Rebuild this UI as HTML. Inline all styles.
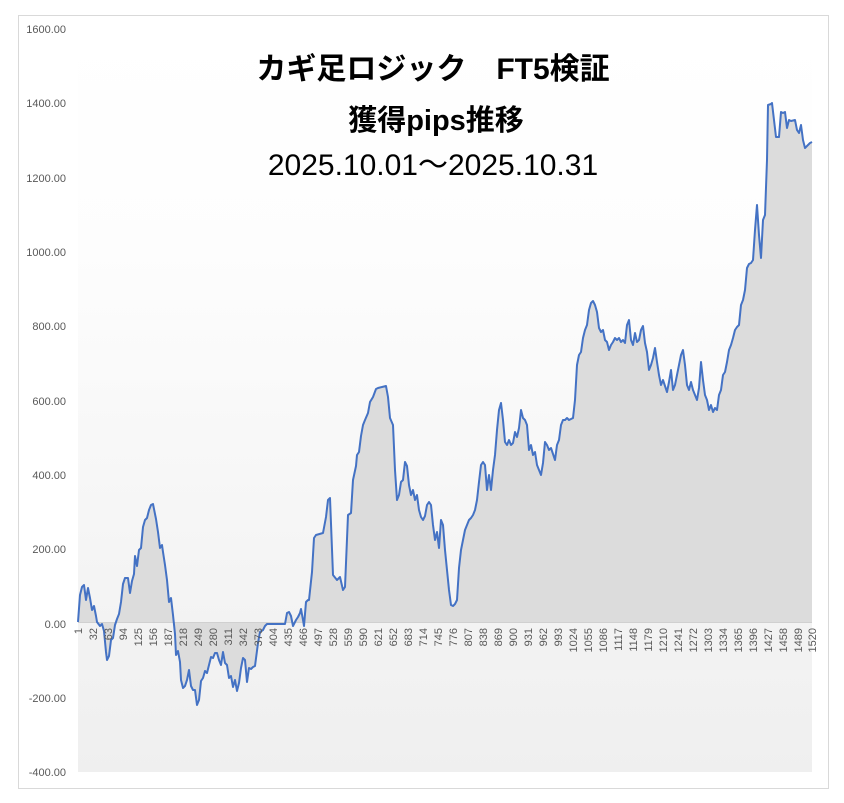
<!DOCTYPE html>
<html><head><meta charset="utf-8"><style>
html,body{margin:0;padding:0;background:#fff}
svg{display:block}
text{font-family:"Liberation Sans","Noto Sans CJK JP",sans-serif}
</style></head><body>
<svg width="844" height="803" viewBox="0 0 844 803" xmlns="http://www.w3.org/2000/svg">
<defs>
<linearGradient id="bg" x1="0" y1="0" x2="0" y2="1">
<stop offset="0" stop-color="#ffffff"/><stop offset="0.3" stop-color="#fdfdfd"/><stop offset="1" stop-color="#efefef"/>
</linearGradient>
</defs>
<rect x="18.5" y="15.5" width="810" height="773" fill="#fff" stroke="#d9d9d9"/>
<rect x="78" y="29" width="734" height="743" fill="url(#bg)"/>
<polygon fill="#dcdcdc" points="78,622 78,622 80,595 82,587 84,585 86,600 88,588 90,598 92,610 94,606 96,616 97,622 100,626 102,624 104,631 106,652 107,660 109,656 111,640 113,638 115,625 117,619 119,614 121,602 123,584 125,578 128,578 130,593 132,581 134,574 135,556 137,566 139,550 141,548 143,527 145,520 147,518 149,510 151,505 153,504 156,519 158,532 160,548 162,545 163,552 165,565 167,580 169,602 171,598 173,615 175,634 176,655 178,651 180,662 181,680 183,688 185,686 187,680 189,670 191,686 193,690 195,690 197,705 199,700 201,681 203,678 205,671 207,673 209,665 211,657 213,658 215,653 217,653 219,660 221,665 223,652 225,663 227,665 229,678 231,676 233,687 235,680 237,691 239,683 241,668 243,658 245,660 247,682 249,668 251,669 253,667 255,666 258,643 260,632 263,630 265,626 267,624 285,624 287,613 289,612 291,616 293,626 296,620 298,617 300,613 301,609 303,620 304,626 306,602 308,600 309,600 312,572 314,538 316,535 323,533 326,517 328,500 330,498 333,575 337,580 340,577 343,590 345,587 348,515 351,513 353,480 356,466 357,455 359,452 361,436 363,425 365,420 368,413 370,402 373,397 376,389 378,388 382,387 386,386 388,397 390,418 393,425 395,470 397,500 399,495 401,482 403,480 405,462 407,466 409,485 411,495 413,490 415,500 417,495 419,510 421,517 423,520 425,516 427,505 429,502 431,505 433,525 435,540 437,532 439,548 441,520 443,525 445,550 447,570 449,590 451,605 453,606 455,604 457,600 459,568 461,550 463,540 465,530 467,525 469,520 471,518 473,515 475,510 477,500 479,482 481,465 483,462 485,465 487,490 489,475 491,490 493,470 495,455 497,430 499,410 501,403 503,420 505,442 507,445 509,440 511,445 513,443 515,432 517,437 519,428 521,410 523,418 525,420 527,425 529,450 531,445 533,455 535,452 537,465 539,470 541,475 543,463 545,442 547,445 549,450 551,448 553,454 555,460 557,445 559,440 561,425 563,420 565,420 567,418 569,420 573,418 575,400 577,365 579,355 581,352 583,338 585,330 587,325 589,310 591,303 593,301 595,305 597,312 599,328 601,332 603,330 605,340 607,342 609,350 611,345 613,342 615,338 617,340 619,338 621,342 623,340 625,343 627,325 629,320 631,340 633,345 635,333 637,342 639,340 641,330 643,326 645,343 647,352 649,370 651,365 653,358 655,348 657,362 659,375 661,385 663,380 665,386 667,392 669,382 671,370 673,390 675,385 677,375 679,365 681,355 683,350 685,365 687,385 689,390 691,382 693,390 695,395 697,400 699,388 701,362 703,380 705,395 707,400 709,410 711,405 713,412 715,408 717,410 719,395 721,390 723,375 725,372 727,362 729,350 731,345 733,338 735,330 737,327 739,325 741,305 743,300 745,290 747,268 749,264 751,263 753,260 755,230 757,205 759,235 761,258 763,220 765,215 767,160 768,105 771,104 772,103 774,120 776,137 779,137 781,112 783,113 785,112 787,128 789,120 791,121 795,120 797,130 799,133 801,125 803,140 805,148 807,146 810,143 812,142 812,622"/>
<line x1="78" y1="622.5" x2="812" y2="622.5" stroke="#d0d0d0" stroke-width="1"/>
<polyline fill="none" stroke="#4472c4" stroke-width="2" stroke-linejoin="round" points="78,622 80,595 82,587 84,585 86,600 88,588 90,598 92,610 94,606 96,616 97,622 100,626 102,624 104,631 106,652 107,660 109,656 111,640 113,638 115,625 117,619 119,614 121,602 123,584 125,578 128,578 130,593 132,581 134,574 135,556 137,566 139,550 141,548 143,527 145,520 147,518 149,510 151,505 153,504 156,519 158,532 160,548 162,545 163,552 165,565 167,580 169,602 171,598 173,615 175,634 176,655 178,651 180,662 181,680 183,688 185,686 187,680 189,670 191,686 193,690 195,690 197,705 199,700 201,681 203,678 205,671 207,673 209,665 211,657 213,658 215,653 217,653 219,660 221,665 223,652 225,663 227,665 229,678 231,676 233,687 235,680 237,691 239,683 241,668 243,658 245,660 247,682 249,668 251,669 253,667 255,666 258,643 260,632 263,630 265,626 267,624 285,624 287,613 289,612 291,616 293,626 296,620 298,617 300,613 301,609 303,620 304,626 306,602 308,600 309,600 312,572 314,538 316,535 323,533 326,517 328,500 330,498 333,575 337,580 340,577 343,590 345,587 348,515 351,513 353,480 356,466 357,455 359,452 361,436 363,425 365,420 368,413 370,402 373,397 376,389 378,388 382,387 386,386 388,397 390,418 393,425 395,470 397,500 399,495 401,482 403,480 405,462 407,466 409,485 411,495 413,490 415,500 417,495 419,510 421,517 423,520 425,516 427,505 429,502 431,505 433,525 435,540 437,532 439,548 441,520 443,525 445,550 447,570 449,590 451,605 453,606 455,604 457,600 459,568 461,550 463,540 465,530 467,525 469,520 471,518 473,515 475,510 477,500 479,482 481,465 483,462 485,465 487,490 489,475 491,490 493,470 495,455 497,430 499,410 501,403 503,420 505,442 507,445 509,440 511,445 513,443 515,432 517,437 519,428 521,410 523,418 525,420 527,425 529,450 531,445 533,455 535,452 537,465 539,470 541,475 543,463 545,442 547,445 549,450 551,448 553,454 555,460 557,445 559,440 561,425 563,420 565,420 567,418 569,420 573,418 575,400 577,365 579,355 581,352 583,338 585,330 587,325 589,310 591,303 593,301 595,305 597,312 599,328 601,332 603,330 605,340 607,342 609,350 611,345 613,342 615,338 617,340 619,338 621,342 623,340 625,343 627,325 629,320 631,340 633,345 635,333 637,342 639,340 641,330 643,326 645,343 647,352 649,370 651,365 653,358 655,348 657,362 659,375 661,385 663,380 665,386 667,392 669,382 671,370 673,390 675,385 677,375 679,365 681,355 683,350 685,365 687,385 689,390 691,382 693,390 695,395 697,400 699,388 701,362 703,380 705,395 707,400 709,410 711,405 713,412 715,408 717,410 719,395 721,390 723,375 725,372 727,362 729,350 731,345 733,338 735,330 737,327 739,325 741,305 743,300 745,290 747,268 749,264 751,263 753,260 755,230 757,205 759,235 761,258 763,220 765,215 767,160 768,105 771,104 772,103 774,120 776,137 779,137 781,112 783,113 785,112 787,128 789,120 791,121 795,120 797,130 799,133 801,125 803,140 805,148 807,146 810,143 812,142"/>
<g font-size="11" fill="#595959" text-anchor="end">
<text x="66" y="33">1600.00</text>
<text x="66" y="107">1400.00</text>
<text x="66" y="182">1200.00</text>
<text x="66" y="256">1000.00</text>
<text x="66" y="330">800.00</text>
<text x="66" y="405">600.00</text>
<text x="66" y="479">400.00</text>
<text x="66" y="553">200.00</text>
<text x="66" y="628">0.00</text>
<text x="66" y="702">-200.00</text>
<text x="66" y="776">-400.00</text>
</g>
<g font-size="11" fill="#595959" text-anchor="end">
<text transform="translate(82,628) rotate(-90)">1</text>
<text transform="translate(97,628) rotate(-90)">32</text>
<text transform="translate(112,628) rotate(-90)">63</text>
<text transform="translate(127,628) rotate(-90)">94</text>
<text transform="translate(142,628) rotate(-90)">125</text>
<text transform="translate(157,628) rotate(-90)">156</text>
<text transform="translate(172,628) rotate(-90)">187</text>
<text transform="translate(187,628) rotate(-90)">218</text>
<text transform="translate(202,628) rotate(-90)">249</text>
<text transform="translate(217,628) rotate(-90)">280</text>
<text transform="translate(232,628) rotate(-90)">311</text>
<text transform="translate(247,628) rotate(-90)">342</text>
<text transform="translate(262,628) rotate(-90)">373</text>
<text transform="translate(277,628) rotate(-90)">404</text>
<text transform="translate(292,628) rotate(-90)">435</text>
<text transform="translate(307,628) rotate(-90)">466</text>
<text transform="translate(322,628) rotate(-90)">497</text>
<text transform="translate(337,628) rotate(-90)">528</text>
<text transform="translate(352,628) rotate(-90)">559</text>
<text transform="translate(367,628) rotate(-90)">590</text>
<text transform="translate(382,628) rotate(-90)">621</text>
<text transform="translate(397,628) rotate(-90)">652</text>
<text transform="translate(412,628) rotate(-90)">683</text>
<text transform="translate(427,628) rotate(-90)">714</text>
<text transform="translate(442,628) rotate(-90)">745</text>
<text transform="translate(457,628) rotate(-90)">776</text>
<text transform="translate(472,628) rotate(-90)">807</text>
<text transform="translate(487,628) rotate(-90)">838</text>
<text transform="translate(502,628) rotate(-90)">869</text>
<text transform="translate(517,628) rotate(-90)">900</text>
<text transform="translate(532,628) rotate(-90)">931</text>
<text transform="translate(547,628) rotate(-90)">962</text>
<text transform="translate(562,628) rotate(-90)">993</text>
<text transform="translate(577,628) rotate(-90)">1024</text>
<text transform="translate(592,628) rotate(-90)">1055</text>
<text transform="translate(607,628) rotate(-90)">1086</text>
<text transform="translate(622,628) rotate(-90)">1117</text>
<text transform="translate(637,628) rotate(-90)">1148</text>
<text transform="translate(652,628) rotate(-90)">1179</text>
<text transform="translate(667,628) rotate(-90)">1210</text>
<text transform="translate(682,628) rotate(-90)">1241</text>
<text transform="translate(697,628) rotate(-90)">1272</text>
<text transform="translate(712,628) rotate(-90)">1303</text>
<text transform="translate(727,628) rotate(-90)">1334</text>
<text transform="translate(742,628) rotate(-90)">1365</text>
<text transform="translate(757,628) rotate(-90)">1396</text>
<text transform="translate(772,628) rotate(-90)">1427</text>
<text transform="translate(787,628) rotate(-90)">1458</text>
<text transform="translate(802,628) rotate(-90)">1489</text>
<text transform="translate(816,628) rotate(-90)">1520</text>
</g>
<g text-anchor="middle" fill="#000">
<text x="433" y="79" font-size="30" font-weight="bold">カギ足ロジック　FT5検証</text>
<text x="436" y="130" font-size="29" font-weight="bold">獲得pips推移</text>
<text x="433" y="175" font-size="30">2025.10.01～2025.10.31</text>
</g>
</svg>
</body></html>
